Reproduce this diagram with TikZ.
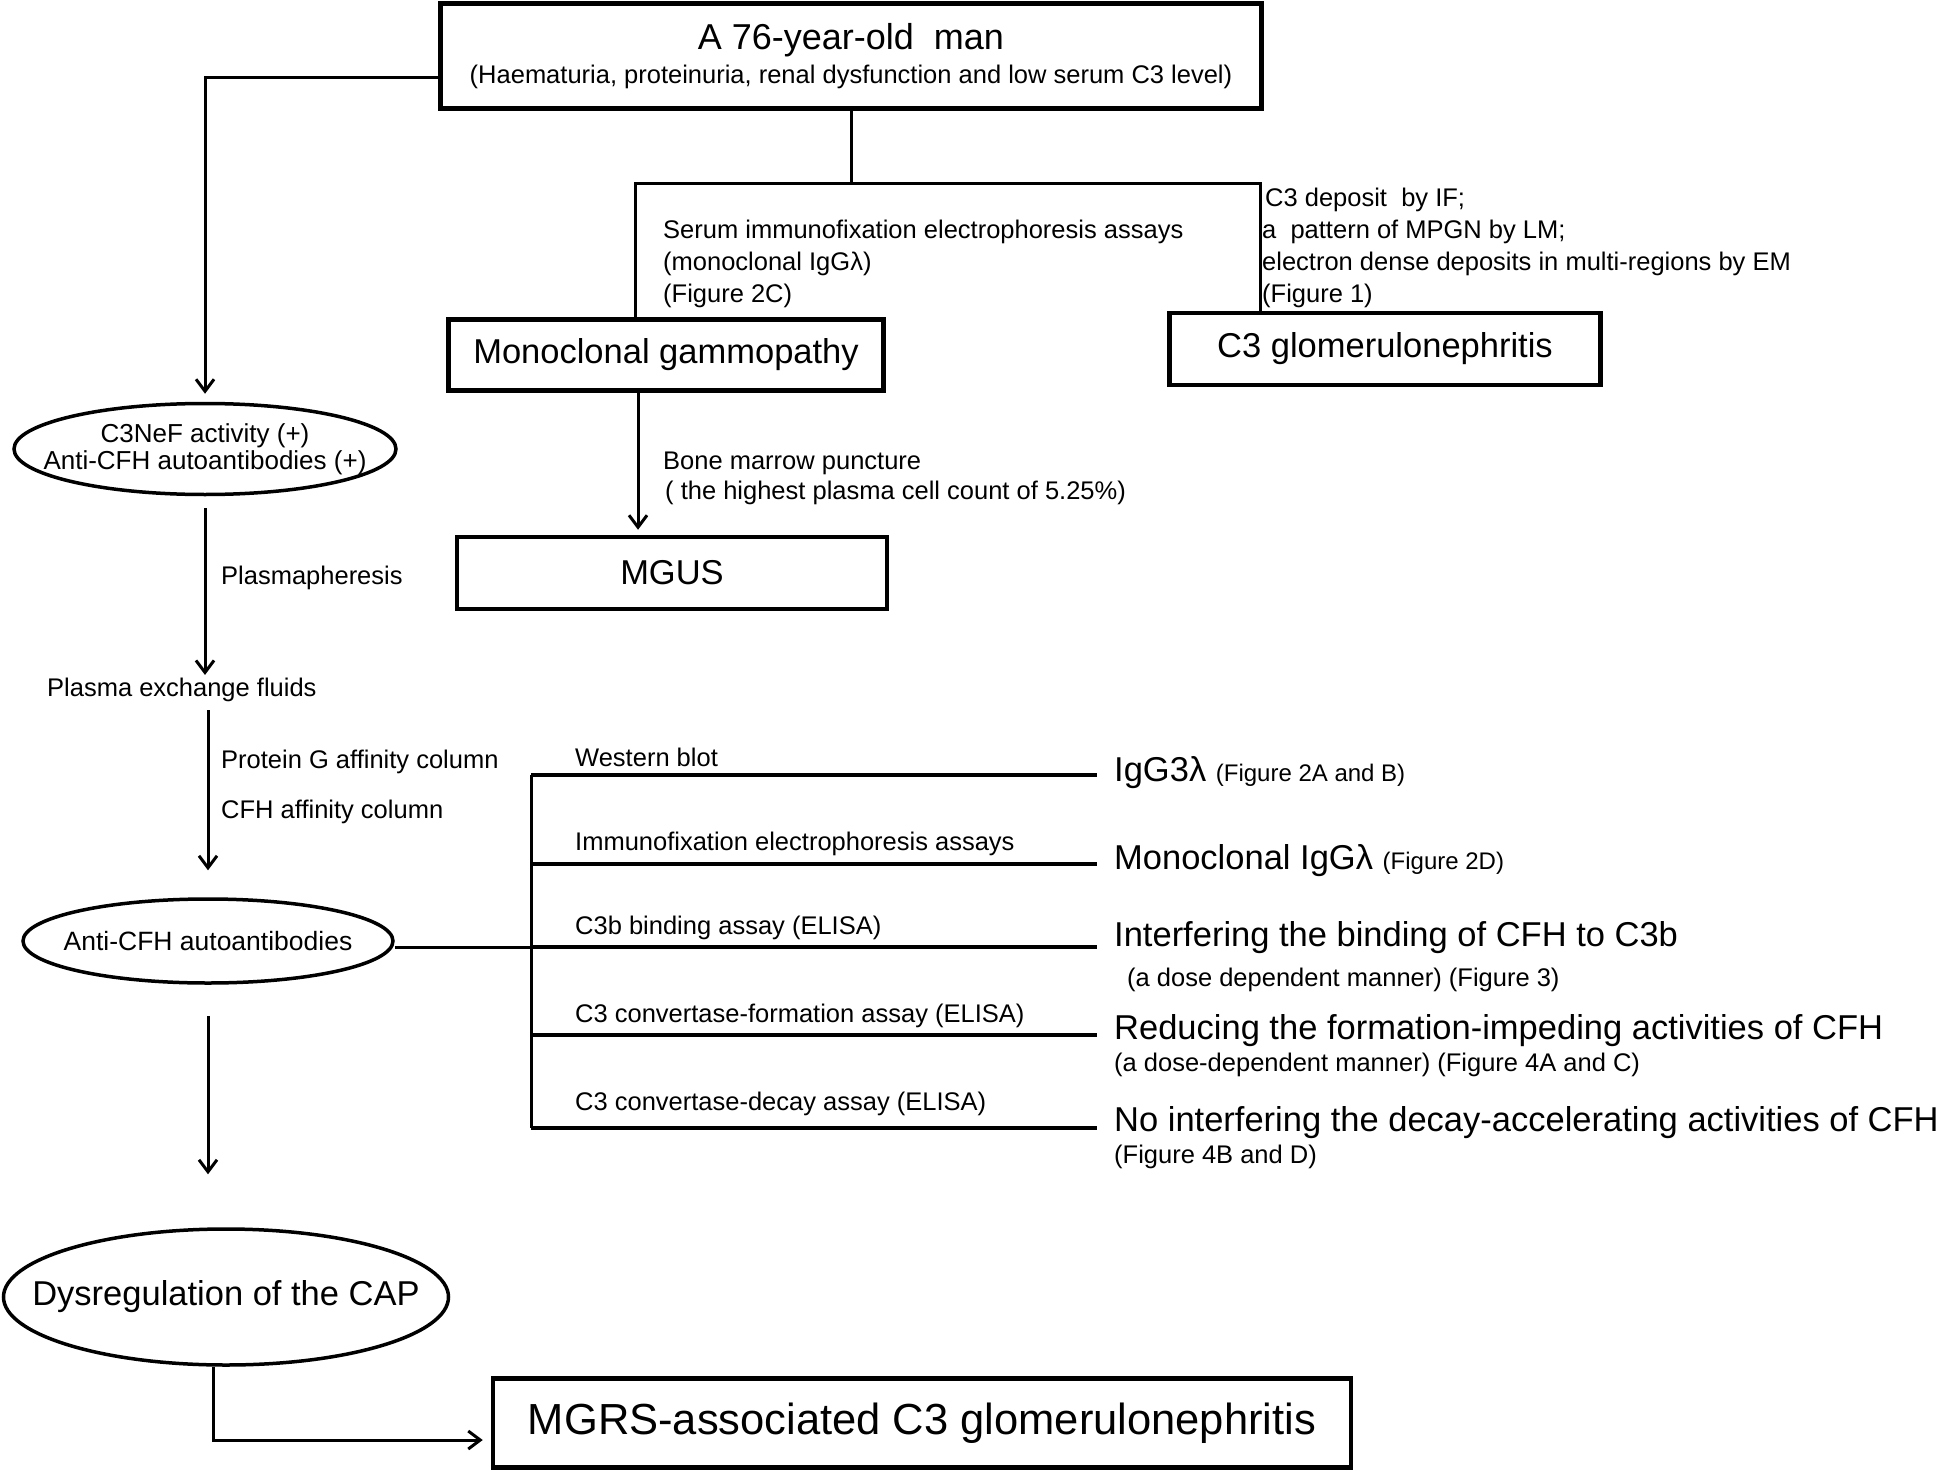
\documentclass[tikz,border=0pt]{standalone}
\usepackage{fontspec}
\setmainfont{Liberation Sans}
\usepackage{tikz}
\usetikzlibrary{arrows.meta,positioning,shapes.geometric,calc}

\newcommand{\bigtxt}{\fontsize{34.5}{40}\selectfont}
\newcommand{\smalltxt}{\fontsize{25.5}{32}\selectfont}

\begin{document}
\begin{tikzpicture}[x=1pt, y=-1pt,
    box/.style={draw, line width=4.5pt, inner sep=0pt, font=\bigtxt},
    oval/.style={draw, ellipse, line width=3.5pt, inner sep=0pt},
    line/.style={line width=3pt},
    arr/.style={line width=3pt, -{Straight Barb[length=12pt, width=18pt]}},
    branch/.style={line width=3.5pt, shorten >=17pt},
    lab/.style={anchor=west, inner sep=0pt, font=\smalltxt, align=left},
    res/.style={anchor=west, inner sep=0pt, font=\bigtxt}]

    \useasboundingbox (0,0) rectangle (1946,1474);

    % Patient
    \node[box, minimum width=821pt, minimum height=105pt, align=center] (man) at (851,56)
        {\fontsize{36}{40}\selectfont A 76-year-old\ \ man\\[-6pt]{\smalltxt (Haematuria, proteinuria, renal dysfunction and low serum C3 level)}};

    % Right branch: kidney and serum findings
    \node[box, minimum width=435pt, minimum height=71pt] (mono) at (666,355) {Monoclonal gammopathy};
    \node[box, minimum width=431pt, minimum height=72pt] (c3gn) at (1385,349) {C3 glomerulonephritis};
    \node[box, minimum width=430pt, minimum height=72pt] (mgus) at (672,573) {MGUS};

    \coordinate (lsplit) at (635,184);
    \coordinate (rsplit) at (1260,184);
    \draw[line] (man.south) -- (man.south |- lsplit);
    \draw[line] (mono.north -| lsplit) -- (lsplit) -- (rsplit) -- (c3gn.north -| rsplit);
    \draw[arr, shorten >=5pt] (mono.south -| 638,0) -- (mgus.north -| 638,0);

    \node[lab, anchor=north west] (serum) at (663,220)
        {Serum immunofixation electrophoresis assays\\(monoclonal IgGλ)\\(Figure 2C)};
    \node[lab, anchor=north west] (biopsy) at (1262,188)
        {\hspace{3pt}C3 deposit\ \ by IF;\\a\ \ pattern of MPGN by LM;\\electron dense deposits in multi-regions by EM\\(Figure 1)};
    \node[lab, anchor=north west, font=\fontsize{25.5}{30}\selectfont] (marrow) at (663,452)
        {Bone marrow puncture\\\hspace{2pt}( the highest plasma cell count of 5.25\%)};

    % Left branch: autoantibodies
    \node[oval, minimum width=382pt, minimum height=91pt] (c3nef) at (205,449) {};
    \node[font=\fontsize{26}{32}\selectfont, align=center] (c3neftxt) at (c3nef) {C3NeF activity (+)\\[-5pt]Anti-CFH autoantibodies (+)};
    \node[lab] (plex) at (221,578) {Plasmapheresis};
    \node[lab] (pef) at (47,690) {Plasma exchange fluids};
    \node[lab] (protg) at (221,762) {Protein G affinity column};
    \node[lab] (cfhcol) at (221,812) {CFH affinity column};
    \node[oval, minimum width=370pt, minimum height=84pt] (anticfh) at (208,941) {};
    \node[font=\fontsize{26.5}{32}\selectfont] (anticfhtxt) at (anticfh) {Anti-CFH autoantibodies};
    \node[oval, minimum width=445pt, minimum height=136pt] (dysreg) at (226,1297) {};
    \node[font=\bigtxt] (dysregtxt) at (dysreg) {Dysregulation of the CAP};
    \node[box, minimum width=858pt, minimum height=89pt, font=\fontsize{43.5}{48}\selectfont] (mgrs) at (922,1423) {MGRS-associated C3 glomerulonephritis};

    \draw[arr, shorten >=8pt] ([yshift=-22pt]man.west) -| (c3nef.north);
    \draw[arr, shorten <=12pt, shorten >=3pt] (c3nef.south) -- (c3nef.south |- pef.north);
    \draw[arr, shorten <=8pt, shorten >=27pt] (anticfh.north |- pef.south) -- (anticfh.north);
    \draw[arr, shorten <=31pt, shorten >=53pt] (anticfh.south) -- (anticfh.south |- dysreg.north);
    \draw[arr, shorten >=8pt] ([xshift=-13pt]dysreg.south) |- ([yshift=-17pt]mgrs.west);

    % Assays on the purified antibodies
    \coordinate (t1) at (531,775);
    \coordinate (t2) at (531,864);
    \coordinate (t3) at (531,947);
    \coordinate (t4) at (531,1035);
    \coordinate (t5) at (531,1128);
    \draw[line] (t1) -- (t5);
    \draw[line] ([yshift=-6pt]anticfh.east) -- (t3);

    \foreach \i/\y/\t in {1/757/Western blot,
                          2/844/Immunofixation electrophoresis assays,
                          3/928/C3b binding assay (ELISA),
                          4/1016/C3 convertase-formation assay (ELISA),
                          5/1104/C3 convertase-decay assay (ELISA)}
        \node[lab] (b\i) at (575,\y) {\t};

    \node[res] (r1) at (1114,773) {IgG3λ\ {\fontsize{24}{30}\selectfont(Figure 2A and B)}};
    \node[res] (r2) at (1114,861) {Monoclonal IgGλ\ {\fontsize{24}{30}\selectfont(Figure 2D)}};
    \node[res] (r3) at (1114,938) {Interfering the binding of CFH to C3b};
    \node[lab] (r3s) at (1127,980) {(a dose dependent manner) (Figure 3)};
    \node[res] (r4) at (1114,1031) {Reducing the formation-impeding activities of CFH};
    \node[lab] (r4s) at (1114,1065) {(a dose-dependent manner) (Figure 4A and C)};
    \node[res] (r5) at (1114,1123) {No interfering the decay-accelerating activities of CFH};
    \node[lab] (r5s) at (1114,1157) {(Figure 4B and D)};

    \foreach \i in {1,...,5}
        \draw[branch] (t\i) -- (t\i -| r\i.west);
\end{tikzpicture}
\end{document}
